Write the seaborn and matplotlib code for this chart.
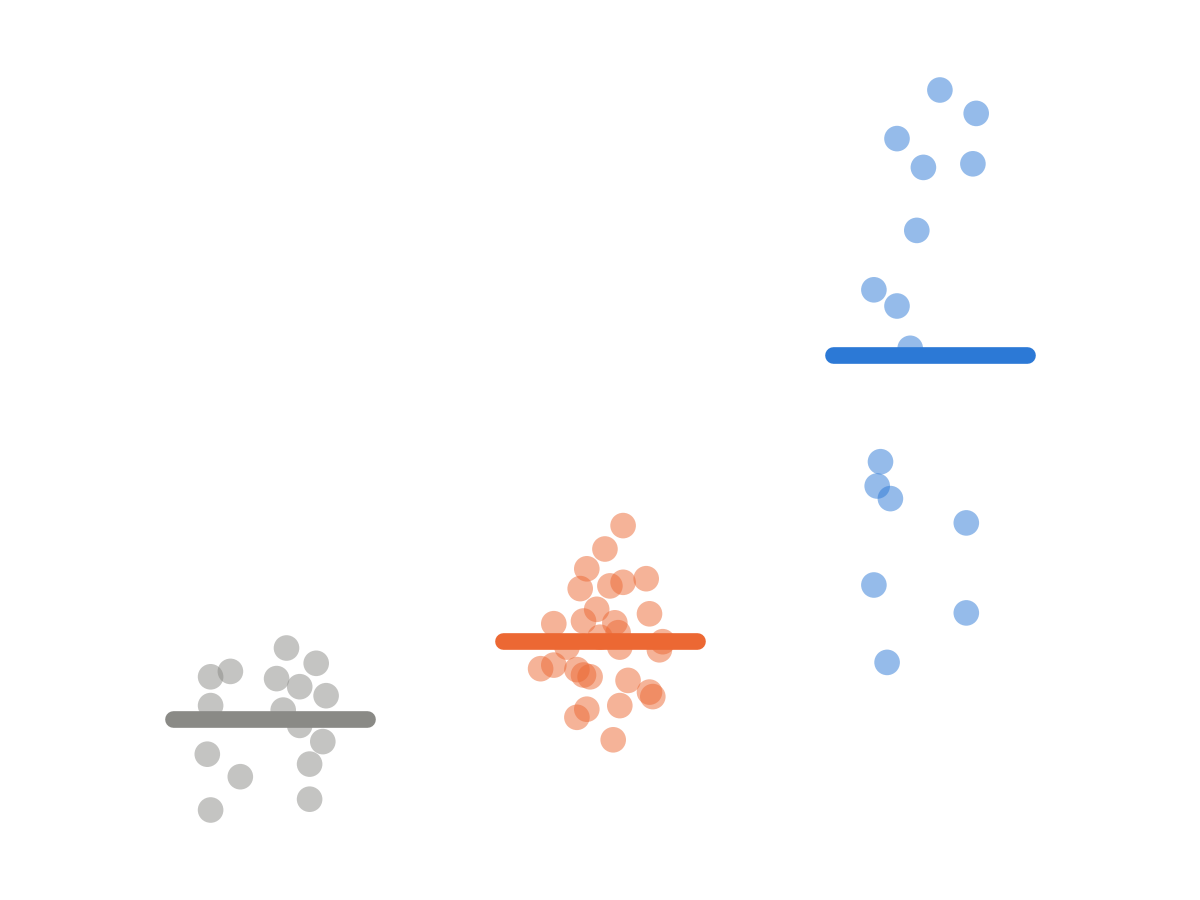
import numpy as np
import pandas as pd
import matplotlib
matplotlib.use("Agg")
import matplotlib.pyplot as plt
import seaborn as sns

groups = ["A", "B", "C"]
colors = {"A": "#8a8a86", "B": "#ec6833", "C": "#2c79d6"}

a_values = [28.0, 26.3, 24.8, 25.4, 24.6, 23.7, 22.7, 21.6, 21.1, 19.4,
            17.6, 16.2, 13.7, 15.1, 11.2, 10.0]
a_jitter = [0.05, 0.14, -0.18, -0.12, 0.02, 0.09, 0.17, -0.18, 0.04, 0.09,
            0.16, -0.19, -0.09, 0.12, 0.12, -0.18]

b_values = [41.6, 39.0, 36.8, 34.6, 34.9, 35.3, 35.7, 32.3, 31.8, 30.7,
            31.0, 30.8, 29.7, 29.2, 28.1, 28.1, 27.8, 28.7, 25.7, 26.1,
            25.6, 25.0, 24.8, 24.4, 23.1, 22.6, 21.2, 20.3, 21.6, 17.8]
b_jitter = [0.07, 0.015, -0.04, -0.06, 0.03, 0.07, 0.14, -0.01, 0.15, -0.14,
            -0.05, 0.045, 0.055, 0.0, -0.10, 0.06, 0.18, 0.19, -0.18, -0.14,
            -0.07, -0.05, -0.03, 0.085, 0.15, 0.16, -0.04, -0.07, 0.06, 0.04]

c_values = [90.0, 87.4, 84.6, 81.4, 81.8, 74.4, 67.8, 66.0, 61.3, 48.7,
            46.0, 44.6, 41.9, 35.0, 31.9, 26.4]
c_jitter = [0.03, 0.14, -0.10, -0.02, 0.13, -0.04, -0.17, -0.10, -0.06, -0.15,
            -0.16, -0.12, 0.11, -0.17, 0.11, -0.13]

frames = []
for i, (g, vals, jit) in enumerate(zip(groups, [a_values, b_values, c_values],
                                       [a_jitter, b_jitter, c_jitter])):
    frames.append(pd.DataFrame({"group": g, "value": vals,
                                "x": i + np.array(jit)}))
df = pd.concat(frames, ignore_index=True)

fig = plt.figure(figsize=(12, 9), dpi=100)
ax = fig.add_axes([0, 0, 1, 1])

sns.scatterplot(data=df, x="x", y="value", hue="group", palette=colors,
                s=340, alpha=0.5, edgecolor="none", legend=False, ax=ax, zorder=2)

# mean line per group
means = df.groupby("group")["value"].mean()
for i, g in enumerate(groups):
    ax.plot([i - 0.295, i + 0.295], [means[g], means[g]], color=colors[g],
            lw=12, solid_capstyle="round", zorder=3)

ax.set_xlim(-270 / 330, 930 / 330)
ax.set_ylim(0, 100)
ax.axis("off")

fig.savefig("out.png", dpi=100)
